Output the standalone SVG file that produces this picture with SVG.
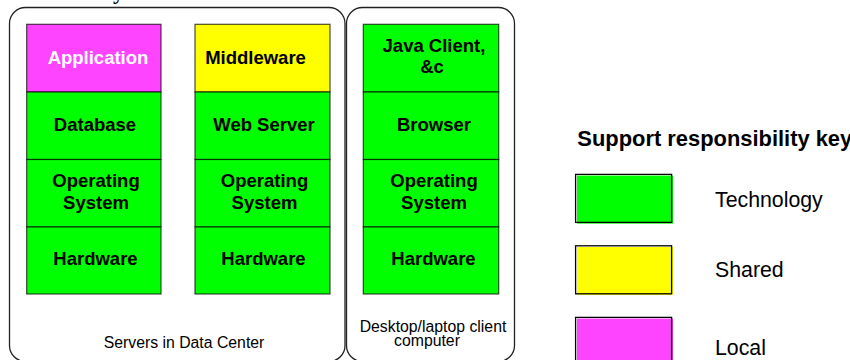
<svg xmlns="http://www.w3.org/2000/svg" width="850" height="360" viewBox="0 0 850 360">
  <style>
    .frame { fill: #ffffff; stroke: #222222; stroke-width: 1.3; }
    .layer { stroke: #000000; stroke-opacity: 0.7; stroke-width: 1.2; }
    .tech { fill: #00ff00; }
    .shared { fill: #ffff00; }
    .local { fill: #ff44ff; }
    .lbl { font-family: "Liberation Sans", Arial, sans-serif; font-weight: bold; font-size: 18.5px; fill: #000000; text-anchor: middle; }
    .cap { font-family: "Liberation Sans", Arial, sans-serif; font-size: 15.8px; fill: #000000; text-anchor: middle; }
    .key { font-family: "Liberation Sans", Arial, sans-serif; font-size: 21.3px; fill: #000000; }
    .swatch-edge { fill: none; stroke: #000000; stroke-width: 1.3; }
  </style>

  <!-- title descender peeking in at the top edge -->
  <text x="113" y="-1.5" font-family="Liberation Serif, serif" font-weight="bold" font-size="22" fill="#000">y</text>

  <!-- enclosures -->
  <g id="servers">
    <rect class="frame" x="9.5" y="7.5" width="335.5" height="354" rx="16" ry="16"/>
    <text class="cap" x="184" y="348">Servers in Data Center</text>
  </g>
  <g id="client">
    <rect class="frame" x="346.5" y="7.5" width="168" height="354" rx="16" ry="16"/>
    <text class="cap" x="433" y="331.5">Desktop/laptop client</text>
    <text class="cap" x="427" y="346">computer</text>
  </g>

  <!-- application server stack -->
  <g id="app-stack">
    <rect class="layer local" x="26.7" y="24.3" width="134.3" height="67.7"/>
    <rect class="layer tech" x="26.7" y="92" width="134.3" height="67.5"/>
    <rect class="layer tech" x="26.7" y="159.5" width="134.3" height="67.5"/>
    <rect class="layer tech" x="26.7" y="227" width="134.3" height="67"/>
    <text class="lbl" x="98" y="63.5" style="fill:#ffffff">Application</text>
    <text class="lbl" x="95" y="131">Database</text>
    <text class="lbl" x="96" y="186.7">Operating</text>
    <text class="lbl" x="96" y="209">System</text>
    <text class="lbl" x="95.5" y="265">Hardware</text>
  </g>

  <!-- web server stack -->
  <g id="web-stack">
    <rect class="layer shared" x="195" y="24.3" width="135" height="67.7"/>
    <rect class="layer tech" x="195" y="92" width="135" height="67.5"/>
    <rect class="layer tech" x="195" y="159.5" width="135" height="67.5"/>
    <rect class="layer tech" x="195" y="227" width="135" height="67"/>
    <text class="lbl" x="255.5" y="63.5">Middleware</text>
    <text class="lbl" x="264" y="131">Web Server</text>
    <text class="lbl" x="264.5" y="186.7">Operating</text>
    <text class="lbl" x="264.5" y="209">System</text>
    <text class="lbl" x="263.5" y="265">Hardware</text>
  </g>

  <!-- client stack -->
  <g id="client-stack">
    <rect class="layer tech" x="363.3" y="24.3" width="135.4" height="67.7"/>
    <rect class="layer tech" x="363.3" y="92" width="135.4" height="67.5"/>
    <rect class="layer tech" x="363.3" y="159.5" width="135.4" height="67.5"/>
    <rect class="layer tech" x="363.3" y="227" width="135.4" height="67"/>
    <text class="lbl" x="434" y="51.7">Java Client,</text>
    <text class="lbl" x="432" y="72.7">&amp;c</text>
    <text class="lbl" x="434" y="131">Browser</text>
    <text class="lbl" x="434" y="186.7">Operating</text>
    <text class="lbl" x="434" y="209">System</text>
    <text class="lbl" x="433.5" y="265">Hardware</text>
  </g>

  <!-- legend -->
  <g id="legend">
    <text x="577.3" y="146" font-family="Liberation Sans, Arial, sans-serif" font-weight="bold" font-size="21.9" fill="#000">Support responsibility key</text>
    <g id="key-technology">
      <rect class="tech" x="577" y="175.6" width="96" height="48"/>
      <rect class="swatch-edge" x="575.6" y="174.4" width="96" height="48"/>
      <text class="key" x="715" y="206.7">Technology</text>
    </g>
    <g id="key-shared">
      <rect class="shared" x="577" y="247" width="96" height="48"/>
      <rect class="swatch-edge" x="575.6" y="245.8" width="96" height="48"/>
      <text class="key" x="715" y="276.7">Shared</text>
    </g>
    <g id="key-local">
      <rect class="local" x="577" y="318.6" width="96" height="48"/>
      <rect class="swatch-edge" x="575.6" y="317.4" width="96" height="48"/>
      <text class="key" x="715" y="355">Local</text>
    </g>
  </g>
</svg>
